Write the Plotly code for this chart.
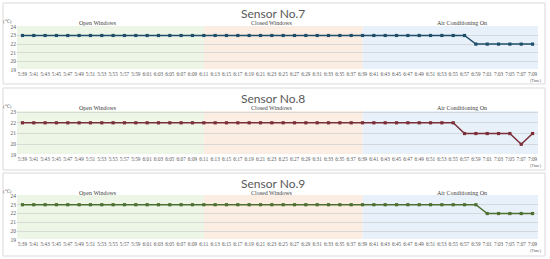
import plotly.graph_objects as go

W, H = 550, 259

# ---- data ----
times = ["5:39", "5:41", "5:43", "5:45", "5:47", "5:49", "5:51", "5:53", "5:55", "5:57",
         "5:59", "6:01", "6:03", "6:05", "6:07", "6:09", "6:11", "6:13", "6:15", "6:17",
         "6:19", "6:21", "6:23", "6:25", "6:27", "6:29", "6:31", "6:33", "6:35", "6:37",
         "6:39", "6:41", "6:43", "6:45", "6:47", "6:49", "6:51", "6:53", "6:55", "6:57",
         "6:59", "7:01", "7:03", "7:05", "7:07", "7:09"]

sensor7 = [23] * 40 + [22] * 6
sensor8 = [22] * 39 + [21, 21, 21, 21, 21, 20, 21]
sensor9 = [23] * 41 + [22] * 5

titles = ["Sensor No.7", "Sensor No.8", "Sensor No.9"]
phase_labels = ["Open Windows", "Closed Windows", "Air Conditioning On"]
phase_bounds = ["6:11", "6:39"]
y_ticks = [[19, 20, 21, 22, 23, 24], [19, 20, 21, 22, 23], [19, 20, 21, 22, 23, 24]]
line_colors = ["#1f4e6b", "#7a2e37", "#4d7031"]

# ---- layout (pixel geometry) ----
def py(p):
    return 1 - p / H

panels = [
    dict(top=26, bottom=70, title_y=13, label_y=23, unit_y=21, time_y=80, box=(3, 84)),
    dict(top=111, bottom=155, title_y=98, label_y=108, unit_y=106, time_y=165, box=(88, 170)),
    dict(top=195, bottom=240, title_y=183, label_y=193, unit_y=191, time_y=250, box=(173, 256)),
]
series = [sensor7, sensor8, sensor9]

x_left, x_right = 17, 538
xd = [x_left / W, x_right / W]
pad = 0.48
n = len(times)
b0 = times.index(phase_bounds[0])
b1 = times.index(phase_bounds[1])
band_colors = ["#edf5e6", "#fcede2", "#e8f1f9"]

fig = go.Figure()
shapes = []
annotations = []

for i, (p, ys) in enumerate(zip(panels, series)):
    xa = "x" if i == 0 else f"x{i+1}"
    ya = "y" if i == 0 else f"y{i+1}"
    fig.add_trace(go.Scatter(
        x=list(range(n)), y=ys, mode="lines+markers",
        line=dict(color=line_colors[i], width=1.5),
        marker=dict(symbol="square", size=3.2, color=line_colors[i]),
        xaxis=xa, yaxis=ya, showlegend=False, hoverinfo="skip"))
    yt = y_ticks[i]
    ymin, ymax = yt[0], yt[-1] + 0.1
    xkey = "xaxis" if i == 0 else f"xaxis{i+1}"
    ykey = "yaxis" if i == 0 else f"yaxis{i+1}"
    fig.layout[xkey] = dict(
        domain=xd, range=[-pad, n - 1 + pad], anchor=ya, automargin=False,
        tickmode="array", tickvals=list(range(n)), ticktext=times,
        tickangle=0, showgrid=False, zeroline=False, showline=False,
        ticks="", ticklen=0,
        tickfont=dict(family="Liberation Serif", size=5.2, color="#595959"))
    fig.layout[ykey] = dict(
        domain=[py(p["bottom"]), py(p["top"])], range=[ymin, ymax], anchor=xa,
        automargin=False,
        tickmode="array", tickvals=yt, showgrid=True,
        gridcolor="rgba(205,205,205,0.7)", gridwidth=0.6, zeroline=False,
        showline=False, ticks="", ticklen=0,
        tickfont=dict(family="Liberation Serif", size=5.5, color="#595959"))
    # phase bands
    bounds = [(-pad, b0), (b0, b1), (b1, n - 1 + pad)]
    for (a, b), c in zip(bounds, band_colors):
        shapes.append(dict(type="rect", xref=xa, yref="paper", x0=a, x1=b,
                           y0=py(p["bottom"] - 1), y1=py(p["top"]),
                           fillcolor=c, line=dict(width=0), layer="below"))
    # phase labels
    for lab, cx in zip(phase_labels, [6.7, 22.0, 38.8]):
        annotations.append(dict(text=lab, xref=xa, yref="paper", x=cx, y=py(p["label_y"]),
                                showarrow=False, xanchor="center", yanchor="middle",
                                font=dict(family="Liberation Serif", size=6, color="#404040")))
    # title
    annotations.append(dict(text=titles[i], xref="paper", yref="paper", x=273 / W,
                            y=py(p["title_y"]), showarrow=False, xanchor="center",
                            yanchor="middle",
                            font=dict(family="Lato", size=12, color="#595959")))
    annotations.append(dict(text="(℃)", xref="paper", yref="paper", x=7 / W,
                            y=py(p["unit_y"]), showarrow=False, xanchor="center",
                            yanchor="middle",
                            font=dict(family="Liberation Serif", size=5, color="#595959")))
    annotations.append(dict(text="(Time)", xref="paper", yref="paper", x=544 / W,
                            y=py(p["time_y"]), showarrow=False, xanchor="right",
                            yanchor="middle",
                            font=dict(family="Liberation Serif", size=4, color="#595959")))
    # panel border
    shapes.append(dict(type="rect", xref="paper", yref="paper", x0=3 / W, x1=545 / W,
                       y0=py(p["box"][1]), y1=py(p["box"][0]),
                       line=dict(color="#d9d9d9", width=1), fillcolor="rgba(0,0,0,0)",
                       layer="below"))

fig.update_layout(width=W, height=H, margin=dict(l=0, r=0, t=0, b=0),
                  paper_bgcolor="white", plot_bgcolor="rgba(0,0,0,0)",
                  shapes=shapes, annotations=annotations)
fig.write_html("out.html", config={"displayModeBar": False},
               post_script="document.body.style.margin='0';document.body.style.overflow='hidden';")
